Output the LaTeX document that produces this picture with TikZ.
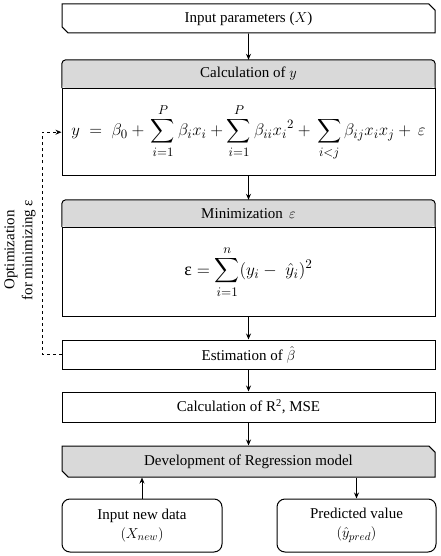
\documentclass[tikz,border=0pt]{standalone}
\usepackage{amsmath}
\usepackage{fontspec}
\setmainfont{Liberation Serif}
\usetikzlibrary{arrows.meta,shapes.misc,positioning}
\definecolor{hdrgray}{RGB}{217,217,217}
\tikzset{
  lbl/.style={font=\fontsize{15}{18}\selectfont, inner sep=0pt},
  box/.style={lbl, draw, line width=1pt, minimum width=373pt},
  hdrbox/.style={lbl, fill=hdrgray, rounded corners=4pt, minimum width=373pt},
  snipbox/.style={box, chamfered rectangle, chamfered rectangle corners={north east,south west}, chamfered rectangle xsep=3pt},
  roundbox/.style={box, rounded corners=8pt, minimum width=160pt, minimum height=53pt, align=center},
  flow/.style={line width=0.9pt, -{Stealth[length=6pt,width=5pt]}},
}
\begin{document}
\begin{tikzpicture}[x=1pt,y=1pt,yscale=-1,xscale=1]
\useasboundingbox (0,0) rectangle (440,556);

%Input parameters
\node[snipbox, minimum height=29pt] (inp) at (248.5,18.5) {Input parameters ($X$)};

%Calculation of y: header and equation
\node[hdrbox, minimum height=28pt] (calchd) at (248.5,74) {Calculation of $y$};
\draw[line width=1pt, rounded corners=4pt] (calchd.south west) |- (calchd.north) -| (calchd.south east);
\node[box, minimum height=87pt, below=0pt of calchd] (calcbd) {\resizebox{354pt}{!}{$\displaystyle y\;=\;\beta_0 +\, \sum_{i=1}^{P}\beta_i x_i + \sum_{i=1}^{P}\beta_{ii}{x_i}^2 +\, \sum_{i<j}\beta_{ij}x_i x_j +\, \varepsilon$}};

%Minimization of error
\node[hdrbox, minimum height=27pt] (minhd) at (248.5,213.5) {Minimization \,$\varepsilon$};
\draw[line width=1pt, rounded corners=4pt] (minhd.south west) |- (minhd.north) -| (minhd.south east);
\node[box, minimum height=89pt, below=0pt of minhd] (minbd) {\resizebox{128pt}{!}{$\displaystyle \text{ε} = \sum_{i=1}^{n}(y_i -\; \hat{y}_i)^2$}};

%Estimation, R2, Regression model
\node[box, minimum height=29pt] (est) at (248.5,354.5) {Estimation of $\hat{\beta}$};
\node[box, minimum height=30pt] (rsq) at (248.5,407) {Calculation of R\textsuperscript{2}, MSE};
\node[snipbox, fill=hdrgray, minimum height=31pt] (model) at (248.5,461.5) {Development of Regression model};

%New data and prediction
\node[roundbox] (newdata) at (142,525.5) {Input new data\\[1pt]$(X_{new})$};
\node[roundbox, minimum width=159pt] (pred) at (356.5,525.5) {Predicted value\\[1pt]$(\hat{y}_{pred})$};

%Arrows
\draw[flow] (inp) -- (calchd);
\draw[flow] (calcbd) -- (minhd);
\draw[flow] (minbd) -- (est);
\draw[flow] (est) -- (rsq);
\draw[flow] (rsq) -- (model);
\draw[flow] (newdata.north) -- (newdata.north |- model.south);
\draw[flow] (pred.north |- model.south) -- (pred.north);

%Optimization loop
\draw[flow, dashed] (est.west) -- ++(-19,0) |- (calcbd.west);
\node[lbl, rotate=90, align=center] (loop) at (20,250) {Optimization\\for minimizing ε};

\end{tikzpicture}
\end{document}
